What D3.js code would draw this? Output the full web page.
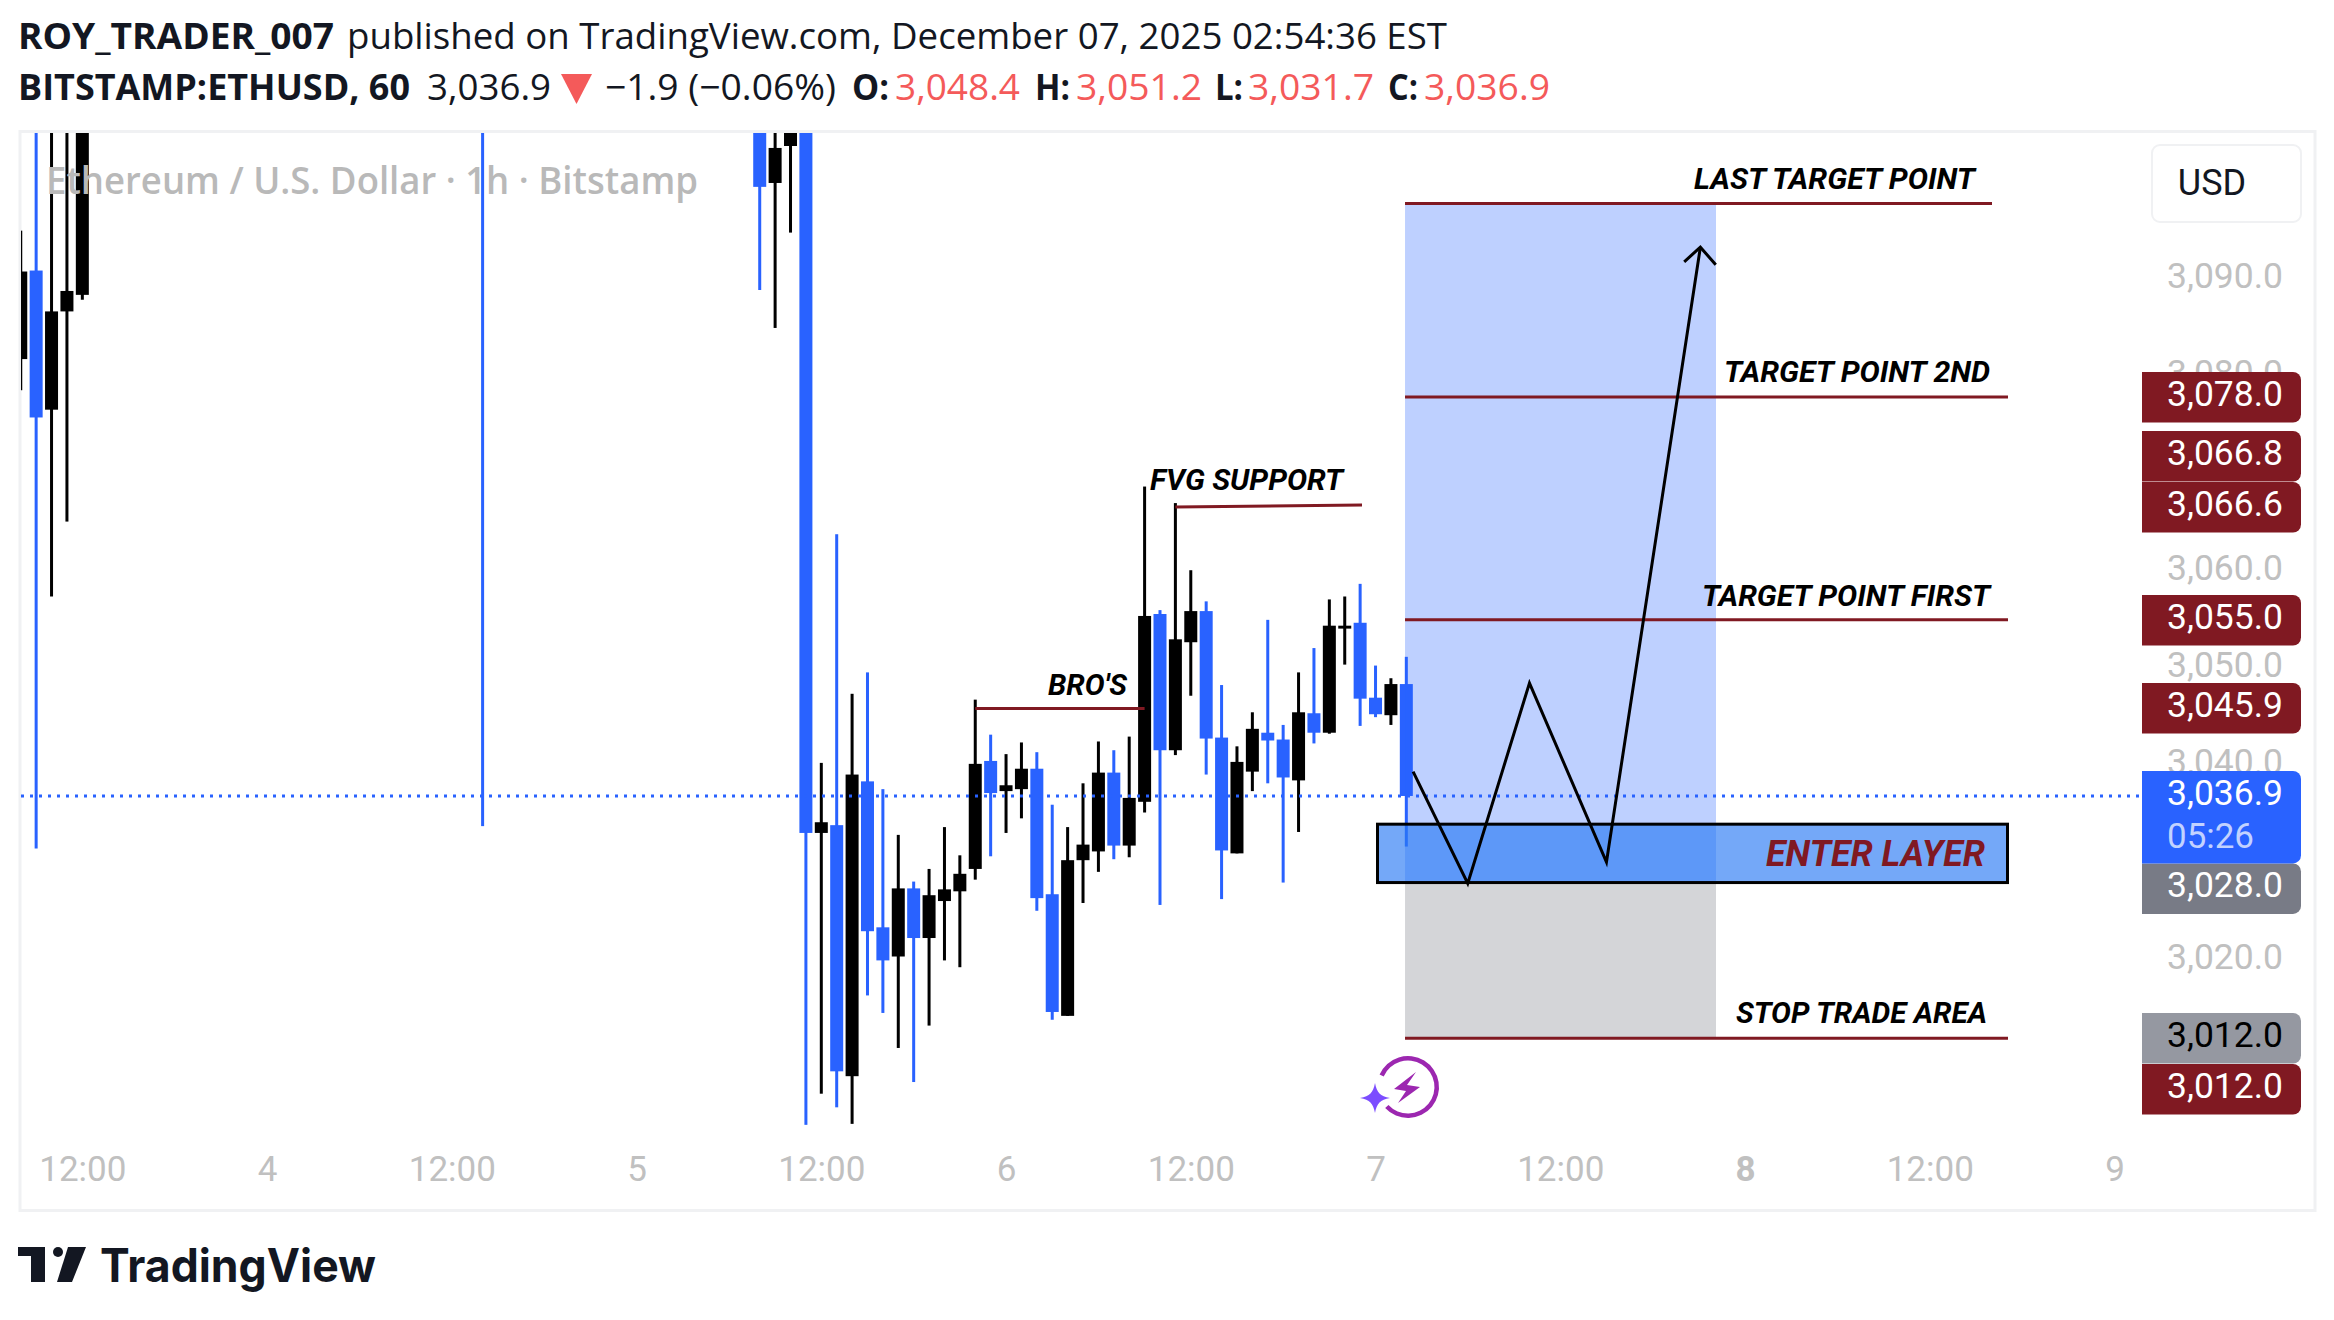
<!DOCTYPE html>
<html><head><meta charset="utf-8">
<style>
html,body{margin:0;padding:0;background:#fff;}
svg{display:block;}
text{font-family:Roboto,sans-serif;}
</style>
<script src="https://cdn.jsdelivr.net/npm/d3@7/dist/d3.min.js"></script>
</head><body>
<svg id="c" width="2334" height="1320" xmlns="http://www.w3.org/2000/svg"></svg>
<script>
// ---- data -----------------------------------------------------------------
const barIndex=[-90,-89,-88,-87,-86,-60,-42,-41,-40,-39,-38,-37,-36,-35,-34,-33,-32,-31,-30,-29,-28,-27,-26,-25,-24,-23,-22,-21,-20,-19,-18,-17,-16,-15,-14,-13,-12,-11,-10,-9,-8,-7,-6,-5,-4,-3,-2,-1,0];
const opens =[3081.8,3090.9,3076.6,3086.7,3088.4,3112,3112,3099.9,3103.7,3110,3033.1,3033.9,3008.1,3038.4,3023.4,3020.4,3027.4,3022.3,3026.1,3027.1,3029.4,3040.5,3037.4,3037.6,3039.7,3026.8,3014.3,3030.3,3031.2,3039.3,3031.8,3036.3,3055.6,3041.6,3052.7,3055.9,3042.9,3031.0,3039.4,3043.4,3042.7,3038.5,3045.4,3043.4,3054.1,3054.7,3047.0,3045.2,3048.4];
const highs =[3095.0,3112,3110,3112,3112,3115,3114,3108,3112,3112,3040.3,3063.8,3047.4,3049.6,3037.6,3032.9,3028.1,3029.4,3033.7,3030.8,3046.8,3043.2,3041.2,3042.4,3041.4,3036.0,3033.7,3038.2,3042.5,3041.6,3043.0,3068.7,3056.0,3067.0,3060.1,3056.9,3048.3,3042.0,3045.5,3055.0,3044.2,3049.6,3052.1,3057.1,3057.4,3058.7,3050.3,3049.0,3051.2];
const lows  =[3078.6,3031.5,3057.4,3065.1,3087.9,3033.8,3088.9,3085.0,3094.8,3003.1,3006.3,3004.9,3003.2,3016.4,3014.6,3011.0,3007.5,3013.3,3020.0,3019.3,3028.3,3030.7,3033.1,3034.6,3025.1,3013.9,3014.3,3025.9,3029.1,3030.4,3030.6,3035.2,3025.7,3041.1,3047.2,3039.1,3026.3,3031.0,3037.4,3038.2,3028.0,3033.2,3042.3,3043.3,3050.4,3044.1,3045.0,3044.2,3031.7];
const closes=[3090.8,3075.8,3086.7,3088.8,3108,3110,3099.5,3103.5,3110,3033.1,3034.2,3008.6,3039.1,3023.0,3020.0,3027.4,3022.3,3026.7,3027.3,3028.9,3040.2,3037.2,3038.0,3039.7,3026.4,3014.7,3030.3,3031.9,3039.3,3031.8,3036.7,3055.4,3041.6,3053.0,3055.9,3042.8,3031.3,3040.4,3043.8,3042.6,3038.8,3045.5,3043.4,3054.4,3054.4,3046.9,3045.3,3048.4,3036.9];

const timeTickIdx=[-86,-74,-62,-50,-38,-26,-14,-2,10,22,34,46];
const timeTickLabels=["12:00","4","12:00","5","12:00","6","12:00","7","12:00","8","12:00","9"];
const priceTicks=[3090,3080,3060,3050,3040,3020];
const lastPrice=3036.9, countdown="05:26";

const levelPrices=[3097.8,3077.9,3055.0,3012.0];
const levelNames=["LAST TARGET POINT","TARGET POINT 2ND","TARGET POINT FIRST","STOP TRADE AREA"];
const zoneTop=3097.8, zoneEntry=3028.0, zoneStop=3012.0;
const enterTop=3034.0, enterBottom=3028.0;
const pathIdx=[0.44,3.99,8.0,13.0,19.1];
const pathPrice=[3039.4,3027.9,3048.5,3030.1,3093.3];
const headIdx=[18.05,19.1,20.1];
const headPrice=[3091.8,3093.3,3091.5];
const tagValues=["3,078.0","3,066.8","3,066.6","3,055.0","3,045.9","3,028.0","3,012.0","3,012.0"];

// ---- scales ---------------------------------------------------------------
const svg=d3.select("#c");
const x=d3.scaleLinear().domain([-90,46]).range([20.75,2114.5]);
const y=d3.scaleLinear().domain([3000,3100]).range([1155,182]);
const RED="#801922",BLUE="#2962ff",INK="#131722",UP="#f45a5a";

// header
function seg(t,x0,w,base,bold,fill){
  svg.append("text").attr("x",x0).attr("y",base).attr("textLength",w).attr("lengthAdjust","spacingAndGlyphs")
    .style("font-family","'Open Sans'").style("font-size","36px").style("font-weight",bold?700:400).attr("fill",fill||INK).text(t);
}
seg("ROY_TRADER_007",18,316,49,true);
seg("published on TradingView.com, December 07, 2025 02:54:36 EST",347,1100,49,false);
seg("BITSTAMP:ETHUSD, 60",18,392,100,true);
seg("3,036.9",427,124,100,false);
svg.append("path").attr("d","M561,74H592L576.5,104Z").attr("fill",UP);
seg("−1.9 (−0.06%)",605,231,100,false);
seg("O:",852,37,100,true);   seg("3,048.4",895,125,100,false,UP);
seg("H:",1035,35,100,true);  seg("3,051.2",1076,126,100,false,UP);
seg("L:",1215,28,100,true);  seg("3,031.7",1248,126,100,false,UP);
seg("C:",1388,30,100,true);  seg("3,036.9",1424,126,100,false,UP);

// pane
svg.append("rect").attr("x",20).attr("y",131.5).attr("width",2295).attr("height",1079).attr("fill","#fff").attr("stroke","#f0f1f3").attr("stroke-width",3);
svg.append("defs").append("clipPath").attr("id","pane").append("rect").attr("x",21).attr("y",133).attr("width",2120).attr("height",997);
const g=svg.append("g").attr("clip-path","url(#pane)");

// candles
const bars=barIndex.map((t,i)=>({t,o:opens[i],h:highs[i],l:lows[i],c:closes[i]}));
const colr=d=>d.c<d.o?BLUE:"#000";
g.selectAll("rect.w").data(bars).join("rect").attr("class","w")
  .attr("x",d=>x(d.t)-1.5).attr("width",3).attr("y",d=>y(d.h)).attr("height",d=>y(d.l)-y(d.h)).attr("fill",colr);
g.selectAll("rect.b").data(bars).join("rect").attr("class","b")
  .attr("x",d=>x(d.t)-6.5).attr("width",13).attr("y",d=>y(Math.max(d.o,d.c))).attr("height",d=>Math.max(1,Math.abs(y(d.o)-y(d.c)))).attr("fill",colr);

// last price line
svg.append("line").attr("x1",21).attr("x2",2142).attr("y1",y(lastPrice)).attr("y2",y(lastPrice))
  .attr("stroke",BLUE).attr("stroke-width",3).attr("stroke-dasharray","3 6");

// position zones
const zx0=x(0)-1.3, zx1=1716;
svg.append("rect").attr("x",zx0).attr("width",zx1-zx0).attr("y",y(zoneTop)).attr("height",y(zoneEntry)-y(zoneTop)).attr("fill","#2962ff").attr("fill-opacity",.3);
svg.append("rect").attr("x",zx0).attr("width",zx1-zx0).attr("y",y(zoneEntry)).attr("height",y(zoneStop)-y(zoneEntry)).attr("fill","#787b86").attr("fill-opacity",.32);

// enter rectangle
svg.append("rect").attr("x",1377.5).attr("width",630).attr("y",y(enterTop)).attr("height",y(enterBottom)-y(enterTop))
  .attr("fill","#2979f5").attr("fill-opacity",.65).attr("stroke","#000").attr("stroke-width",3);

// level lines
const lineEnds=[1992,2008,2008,2008];
levelPrices.forEach((p,i)=>svg.append("line").attr("x1",zx0).attr("x2",lineEnds[i]).attr("y1",y(p)).attr("y2",y(p)).attr("stroke",RED).attr("stroke-width",3));
svg.append("line").attr("x1",x(-28)).attr("x2",x(-17)).attr("y1",y(3045.9)).attr("y2",y(3045.9)).attr("stroke",RED).attr("stroke-width",3);
svg.append("line").attr("x1",x(-15)).attr("x2",1362).attr("y1",y(3066.6)).attr("y2",y(3066.8)).attr("stroke",RED).attr("stroke-width",3);

// arrow
const pl=d3.line().x(d=>x(d[0])).y(d=>y(d[1]));
svg.append("path").attr("d",pl(pathIdx.map((t,i)=>[t,pathPrice[i]]))).attr("fill","none").attr("stroke","#000").attr("stroke-width",3);
svg.append("path").attr("d",pl(headIdx.map((t,i)=>[t,headPrice[i]]))).attr("fill","none").attr("stroke","#000").attr("stroke-width",3);

// labels
function lab(txt,xr,yc,fs,w,fill){
  svg.append("text").attr("x",xr).attr("y",yc).attr("text-anchor","start")
   .attr("textLength",w).attr("lengthAdjust","spacingAndGlyphs")
   .style("font-size",fs+"px").style("font-style","italic").style("font-weight",700).attr("fill",fill||"#000").text(txt);
}
lab(levelNames[0],1694,189,30,281);
lab(levelNames[1],1724,382,30,266);
lab(levelNames[2],1702,606,30,288);
lab(levelNames[3],1736,1023,30,251);
lab("FVG SUPPORT",1150,490,30,193);
lab("BRO'S",1048,695,30,79);
lab("ENTER LAYER",1766,866,36,219,RED);

// watermark
svg.append("text").attr("x",46).attr("y",194).attr("textLength",652).attr("lengthAdjust","spacingAndGlyphs").style("font-family","'Open Sans'").style("font-size","38px").style("font-weight",600).attr("fill","#b9b9b9").text("Ethereum / U.S. Dollar · 1h · Bitstamp");

// icon
const ic=svg.append("g").attr("transform","translate(1408,1087)");
ic.append("path").attr("d",d3.arc().innerRadius(26.5).outerRadius(31).startAngle(-1.16).endAngle(3.97)()).attr("fill","#9c27b0");
ic.append("path").attr("d","M8,-15 L-14,2 L-2,4 L-10,16 L12,0 L-1,-2 Z").attr("fill","#9c27b0");
ic.append("path").attr("d","M-33,-4 C-31,6 -28,9 -18,11 C-28,13 -31,16 -33,26 C-35,16 -38,13 -48,11 C-38,9 -35,6 -33,-4 Z").attr("fill","#7c4dff");

// time axis
const ax=svg.append("g").attr("transform","translate(0,1181)").call(d3.axisBottom(x).tickValues(timeTickIdx).tickSize(0).tickPadding(0).tickFormat((d,i)=>timeTickLabels[i]));
ax.select(".domain").remove();
ax.selectAll("text").attr("dy",0).attr("y",0).style("font-size","35px").style("font-family","Roboto").attr("fill","#c0c0c0")
  .attr("font-weight",d=>d===22?700:400);

// price axis
const ay=svg.append("g").attr("transform","translate(2283,0)").call(d3.axisLeft(y).tickValues(priceTicks).tickSize(0).tickPadding(0).tickFormat(d3.format(",.1f")));
ay.select(".domain").remove();
ay.selectAll("text").attr("dy",0).attr("x",0).attr("y",8).attr("text-anchor","end").attr("textLength",116).attr("lengthAdjust","spacingAndGlyphs")
  .style("font-size","35px").style("font-family","Roboto").attr("fill","#c0c0c0");

// USD box
svg.append("rect").attr("x",2152).attr("y",145).attr("width",149).attr("height",77).attr("rx",8).attr("fill","#fff").attr("stroke","#f0f1f3").attr("stroke-width",2);
svg.append("text").attr("x",2216.5).attr("y",195).attr("text-anchor","middle").attr("dx",-4.5).style("font-size","36px").attr("fill",INK).text("USD");

// tags
const tagTop=[372,431,482,595,683,863.4,1013,1064];
const tagFill=[RED,RED,RED,RED,RED,"#787b86","#9598a1",RED];
const tagText=["#fff","#fff","#fff","#fff","#fff","#fff","#000","#fff"];
function tag(t,h){
  return `M2142,${t}H2293a8,8 0 0 1 8,8V${t+h-8}a8,8 0 0 1 -8,8H2142Z`;
}
tagValues.forEach((v,i)=>{
  svg.append("path").attr("d",tag(tagTop[i],50.5)).attr("fill",tagFill[i]);
  svg.append("text").attr("x",2283).attr("y",tagTop[i]+34).attr("text-anchor","end").attr("textLength",116).attr("lengthAdjust","spacingAndGlyphs").style("font-size","35px").attr("fill",tagText[i]).text(v);
});
svg.append("path").attr("d",tag(771,92.4)).attr("fill",BLUE);
svg.append("text").attr("x",2283).attr("y",805).attr("text-anchor","end").attr("textLength",116).attr("lengthAdjust","spacingAndGlyphs").style("font-size","35px").attr("fill","#fff").text(d3.format(",.1f")(lastPrice));
svg.append("text").attr("x",2167).attr("y",848).attr("textLength",87).attr("lengthAdjust","spacingAndGlyphs").style("font-size","35px").attr("fill","#fff").attr("fill-opacity",.72).text(countdown);

// logo
const lg=svg.append("g").attr("fill",INK);
lg.append("path").attr("d","M18,1247H45V1282H31V1256H18Z");
lg.append("circle").attr("cx",58).attr("cy",1252).attr("r",5);
lg.append("path").attr("d","M68,1247H86L72,1282H57Z");
svg.append("text").attr("x",100).attr("y",1282).style("font-family","Inter").style("font-size","46px").style("font-weight",700).attr("fill",INK).attr("textLength",276).attr("lengthAdjust","spacingAndGlyphs").text("TradingView");
</script>
</body></html>
